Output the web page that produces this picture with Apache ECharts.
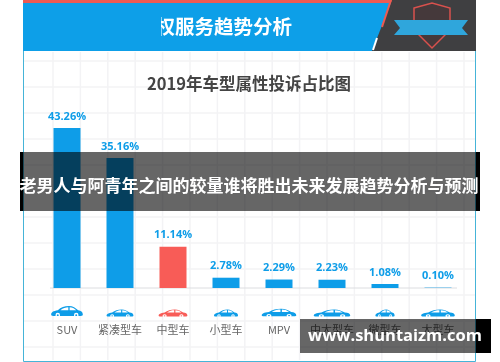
<!DOCTYPE html>
<html>
<head>
<meta charset="utf-8">
<style>
html,body{margin:0;padding:0;background:#fff}
#myChart{width:500px;height:362px}
</style>
<script src="https://cdn.jsdelivr.net/npm/echarts@6/dist/echarts.min.js"></script>
</head>
<body>
<div id="myChart"></div>
<script>
var categories = ['SUV', '紧凑型车', '中型车', '小型车', 'MPV', '中大型车', '微型车', '大型车'];
var shares = [43.26, 35.16, 11.14, 2.78, 2.29, 2.23, 1.08, 0.10];
var carBase = [0, 0, 0, 0, 0, 0, 0, 0];
var carWidths = [33, 28, 30, 25, 36, 38, 20, 35];
var carHeights = [14, 10, 10, 10, 11, 10, 10, 10];

var blue = '#0e9de8', red = '#f85c57';
var cjk = '"Noto Sans CJK SC", sans-serif';
var corners = 'M0 0 L0.01 0 L0 0.01 Z M100 40 L99.99 40 L100 39.99 Z ';
var carBody = 'path://' + corners + 'M2 30 C2 24 8 20 22 18 C32 10 42 6 56 6 C68 6 76 12 84 18 C92 19 98 22 98 30 C98 33 96 34 92 34 L8 34 C4 34 2 33 2 30 Z';
var carGlass = 'path://' + corners + 'M30 18 C38 11 46 9 54 9 L54 18 Z M58 9 C66 9 72 12 78 18 L58 18 Z ' +
    'M15 32 a7 7 0 1 0 14 0 a7 7 0 1 0 -14 0 Z M19 32 a3 3 0 1 1 6 0 a3 3 0 1 1 -6 0 Z ' +
    'M71 32 a7 7 0 1 0 14 0 a7 7 0 1 0 -14 0 Z M75 32 a3 3 0 1 1 6 0 a3 3 0 1 1 -6 0 Z';

function colorOf(i) {
    return categories[i] === '中型车' ? red : blue;
}

function carSeries(symbol, color) {
    return {
        type: 'pictorialBar',
        barGap: '-100%',
        silent: true,
        symbol: symbol,
        symbolPosition: 'start',
        symbolOffset: [0, 30],
        z: symbol === carBody ? 3 : 4,
        data: carBase.map(function (v, i) {
            return {
                value: v,
                symbolSize: [carWidths[i], carHeights[i]],
                itemStyle: { color: color || colorOf(i) }
            };
        })
    };
}

// page furniture: paper grid, header, frame, overlays
var back = [];
for (var gx = 53; gx < 475; gx += 27.4) {
    back.push({ type: 'line', z: 0, shape: { x1: gx, y1: 52, x2: gx, y2: 360 }, style: { stroke: '#f3f3f5', lineWidth: 1.5 } });
}
for (var gy = 61; gy < 360; gy += 26) {
    back.push({ type: 'line', z: 0, shape: { x1: 24, y1: gy, x2: 475, y2: gy }, style: { stroke: '#f3f3f5', lineWidth: 1.5 } });
}
back.push(
    { type: 'rect', z: 1, shape: { x: 23.5, y: 50.5, width: 452, height: 311 }, style: { fill: 'none', stroke: '#45b4d8', lineWidth: 1 } },
    { type: 'rect', z: 1, shape: { x: 23, y: 0, width: 453, height: 51 }, style: { fill: '#0d9fe8' } },
    { type: 'rect', z: 1, shape: { x: 23, y: 0, width: 370, height: 3 }, style: { fill: '#ee5a52' } },
    { type: 'text', z: 2, style: { x: 155.5, y: 27, text: '权服务趋势分析', fill: '#fff', font: 'bold 19.5px ' + cjk, textAlign: 'left', textVerticalAlign: 'middle' } },
    { type: 'rect', z: 3, shape: { x: 23, y: 3, width: 138, height: 48 }, style: { fill: '#0d9fe8' } },
    { type: 'polygon', z: 3, shape: { points: [[392, 0], [476, 0], [476, 51], [372, 51]] }, style: { fill: '#3f3f41' } },
    { type: 'line', z: 4, shape: { x1: 391, y1: 0, x2: 382, y2: 27 }, style: { stroke: '#ee5a52', lineWidth: 2 } },
    { type: 'line', z: 4, shape: { x1: 377, y1: 38, x2: 373, y2: 50 }, style: { stroke: '#fff', lineWidth: 2 } },
    { type: 'polygon', z: 4, shape: { points: [[414, 8], [432, 3], [450, 8], [450, 30], [432, 48], [414, 30]] }, style: { fill: '#45393b', stroke: '#d9514d', lineWidth: 1.5 } },
    { type: 'polygon', z: 5, shape: { points: [[394, 20], [468, 20], [462, 28], [468, 35], [394, 35], [400, 28]] }, style: { fill: '#2fa6dc' } },
    { type: 'text', z: 5, style: { x: 249, y: 84, text: '2019年车型属性投诉占比图', fill: '#444', font: 'bold 16.5px ' + cjk, textAlign: 'center', textVerticalAlign: 'middle' } },
    { type: 'line', z: 1, shape: { x1: 50, y1: 288, x2: 457, y2: 288 }, style: { stroke: '#dcdde0', lineWidth: 1 } }
);

var front = [
    { type: 'rect', z: 100, shape: { x: 20, y: 152, width: 3, height: 59 }, style: { fill: '#000' } },
    { type: 'rect', z: 100, shape: { x: 476, y: 152, width: 4, height: 59 }, style: { fill: '#000' } },
    { type: 'rect', z: 100, shape: { x: 23, y: 152, width: 453, height: 59 }, style: { fill: 'rgba(0,0,0,0.6)' } },
    { type: 'rect', z: 100, shape: { x: 476, y: 319, width: 15, height: 34 }, style: { fill: '#000' } },
    { type: 'rect', z: 100, shape: { x: 300, y: 319, width: 176, height: 34 }, style: { fill: 'rgba(0,0,0,0.6)' } },
    { type: 'text', z: 102, style: { x: 249, y: 186, text: '老男人与阿青年之间的较量谁将胜出未来发展趋势分析与预测', fill: '#fff', font: 'bold 17px ' + cjk, textAlign: 'center', textVerticalAlign: 'middle' } },
    { type: 'text', z: 102, style: { x: 395, y: 336, text: 'www.shuntaizm.com', fill: '#fff', font: 'bold 16.5px "Open Sans", sans-serif', textAlign: 'center', textVerticalAlign: 'middle' } }
];

var myChart = echarts.init(document.querySelector('#myChart'), null, { renderer: 'canvas' });

var option = {
    animation: false,
    backgroundColor: '#fff',
    grid: { left: 40.5, right: 35.5, top: 29, bottom: 74 },
    xAxis: {
        type: 'category',
        data: categories,
        axisLine: { show: false },
        axisTick: { show: false },
        axisLabel: { margin: 36, color: '#666', fontSize: 11, fontFamily: cjk, interval: 0 }
    },
    yAxis: { type: 'value', min: 0, max: 70, show: false },
    graphic: back.concat(front),
    series: [
        {
            type: 'bar',
            barWidth: 27,
            z: 2,
            data: shares,
            itemStyle: {
                color: function (p) { return colorOf(p.dataIndex); }
            },
            label: {
                show: true,
                position: 'top',
                distance: 6,
                fontSize: 11,
                fontWeight: 'bold',
                fontFamily: '"Open Sans", sans-serif',
                color: function (p) { return p.dataIndex === 2 ? '#d9605c' : '#2a9fd0'; },
                formatter: function (p) { return p.value.toFixed(2) + '%'; }
            }
        },
        carSeries(carBody),
        carSeries(carGlass, '#fff')
    ]
};
myChart.setOption(option);
</script>
</body>
</html>
